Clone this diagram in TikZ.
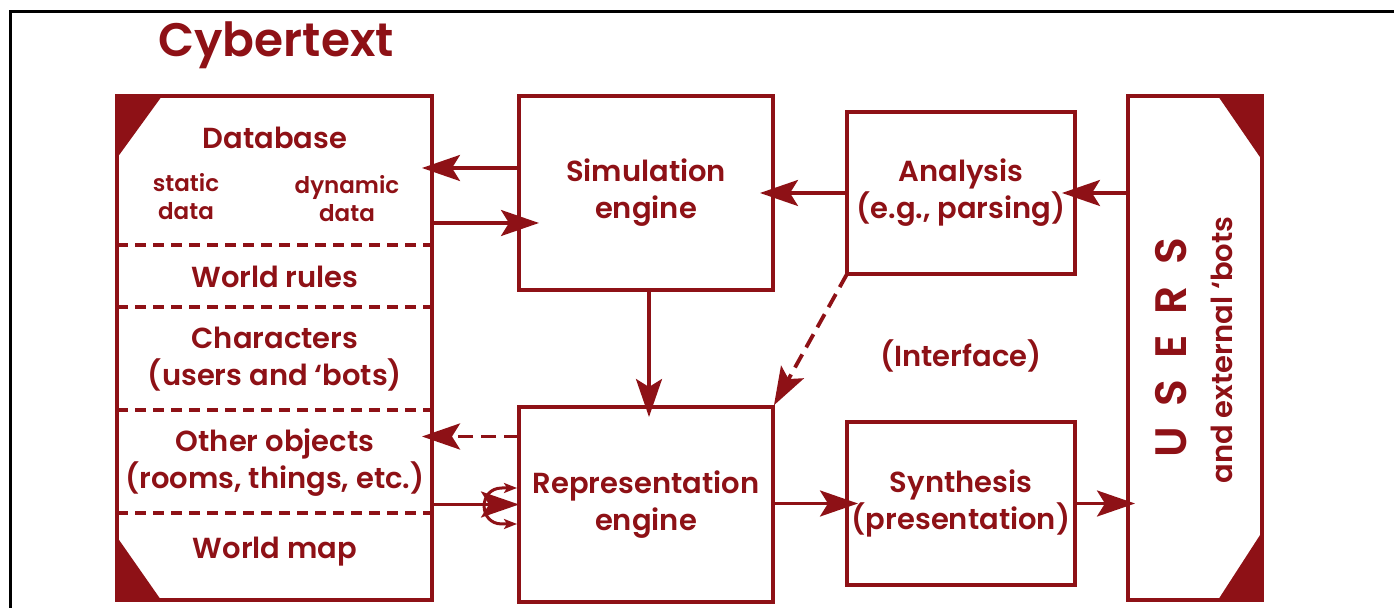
\documentclass[tikz,border=0pt]{standalone}
\usepackage{fontspec}
\setmainfont{Poppins}[BoldFont={* SemiBold}]
\usetikzlibrary{arrows.meta,calc}

\definecolor{cyred}{RGB}{142,17,22}
\newcommand\boxfont{\fontsize{14.5}{18.5}\selectfont\bfseries}
\newcommand\smallfont{\fontsize{11.5}{14}\selectfont\bfseries}
\newcommand\titlefont{\fontsize{23.5}{28}\selectfont\bfseries}
\newcommand\usrgap{\hspace{10.5pt}}

\tikzset{
  box/.style={draw=cyred, line width=2.2pt, outer sep=0pt, inner sep=0pt,
    text=cyred, align=center, font=\boxfont},
  lbl/.style={text=cyred, align=center, font=\boxfont, inner sep=0pt},
  arr/.style={draw=cyred, line width=1.6pt, -{Stealth[length=19pt,width=13pt,inset=4pt]}},
  dasharr/.style={arr, line width=1.9pt, dash pattern=on 7.5pt off 4pt},
  sep/.style={draw=cyred, line width=1.9pt, dash pattern=on 5.5pt off 3.5pt},
  looparr/.style={draw=cyred, line width=1.5pt,
    {Stealth[length=6.5pt,width=5pt,inset=1.5pt]}-{Stealth[length=6.5pt,width=5pt,inset=1.5pt]}},
  corner/.style={fill=cyred}
}

\begin{document}
\begin{tikzpicture}[x=0.5pt, y=-0.5pt, line join=miter]
\useasboundingbox (0,0) rectangle (1394,608);
% frame
\draw[line width=1.5pt] (10,640) -- (10,12) -- (1420,12);
\node[lbl, font=\titlefont] (title) at (276,45) {Cybertext};

% boxes
\node[box, minimum width=157.5pt, minimum height=252pt] (db) at (274.5,348) {};
\node[box, minimum width=127pt, minimum height=97pt] (sim) at (646,193) {Simulation\\engine};
\node[box, minimum width=127pt, minimum height=97.5pt] (rep) at (646,504.5) {Representation\\engine};
\node[box, minimum width=114pt, minimum height=81pt] (ana) at (961,193) {Analysis\\(e.g., parsing)};
\node[box, minimum width=114pt, minimum height=81.5pt] (syn) at (961,503.5) {Synthesis\\(presentation)};
\node[box, minimum width=67pt, minimum height=252pt] (usr) at (1195,348) {};

% corner marks
\fill[corner] (db.north west) -- ++(45,0) -- ($(db.north west)+(0,62)$) -- cycle;
\fill[corner] (db.south west) -- ++(44,0) -- ($(db.south west)+(0,-63)$) -- cycle;
\fill[corner] (usr.north east) -- ++(-44,0) -- ($(usr.north east)+(0,64)$) -- cycle;
\fill[corner] (usr.south east) -- ++(-44,0) -- ($(usr.south east)+(0,-68)$) -- cycle;

% database sections
\foreach \y in {245,307,410,513}
  \draw[sep] (db.west |- 0,\y) -- (db.east |- 0,\y);
\node[lbl] (dbase) at (275,138) {Database};
\node[lbl, font=\smallfont] (static) at (186,197) {static\\data};
\node[lbl, font=\smallfont] (dynamic) at (347,199) {dynamic\\data};
\node[lbl] (rules) at (275,277) {World rules};
\node[lbl] (chars) at (275,359) {Characters\\(users and `bots)};
\node[lbl] (objects) at (275,463) {Other objects\\(rooms, things, etc.)};
\node[lbl] (map) at (275,552) {World map};

\node[lbl] (iface) at (961,356) {(Interface)};
\node[lbl, font=\fontsize{22}{26}\selectfont\bfseries, rotate=90] (users) at (1171,348)
  {U\usrgap S\usrgap E\usrgap R\usrgap S};
\node[lbl, rotate=90] (bots) at (1222,350) {and external `bots};

% connectors
\draw[arr, shorten >=-5pt] ([yshift=12.5pt]sim.west) -- ([yshift=12.5pt]sim.west -| db.east);
\draw[arr, shorten >=-10pt] ([yshift=-15pt]sim.west -| db.east) -- ([yshift=-15pt]sim.west);
\draw[arr, shorten >=-6.5pt] (ana.west) -- (ana.west -| sim.east);
\draw[arr, shorten >=-6.5pt] (usr.west |- ana.west) -- (ana.east);
\draw[arr, shorten >=-5pt] ([xshift=1.5pt]sim.south) -- ([xshift=1.5pt]sim.south |- rep.north);
\draw[dasharr, shorten >=1pt] (ana.south west) -- (rep.north east);
\draw[dasharr, shorten >=-5pt] ([yshift=34pt]rep.west) -- ([yshift=34pt]rep.west -| db.east);
\draw[arr] (rep.west -| db.east) -- (rep.west);
\coordinate (loop) at ($(rep.west)+(-17,1.5)$);
\draw[looparr] ($(loop)+(15,-18)$) -- ($(loop)+(0,-18)$)
  to[out=180, in=180, looseness=1.7] ($(loop)+(0,18)$) -- ($(loop)+(15,18)$);
\draw[arr, shorten >=-5.5pt] (syn.west -| rep.east) -- (syn.west);
\draw[arr, shorten >=-3.5pt] (syn.east) -- (syn.east -| usr.west);
\end{tikzpicture}
\end{document}
